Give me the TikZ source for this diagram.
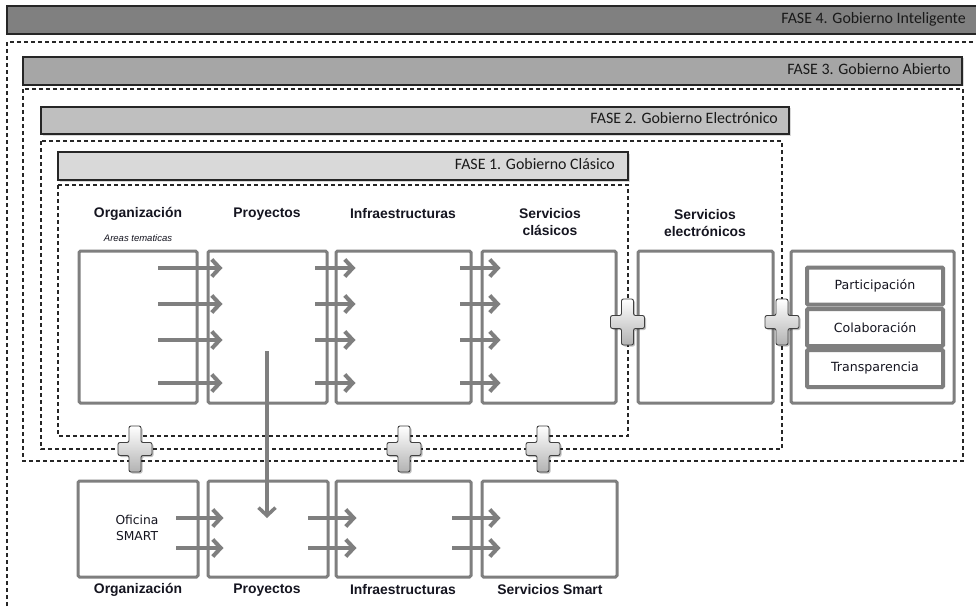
\documentclass[tikz,border=0pt]{standalone}
\usepackage{fontspec}
\setmainfont{Liberation Sans}
\newfontfamily\calib{Carlito}
\newfontfamily\dejav{DejaVu Sans}
\usetikzlibrary{arrows.meta,shadows}
\definecolor{fcuatro}{HTML}{808080}
\definecolor{ftres}{HTML}{A6A6A6}
\definecolor{fdos}{HTML}{BFBFBF}
\definecolor{funo}{HTML}{D9D9D9}
\definecolor{boxgray}{HTML}{7F7F7F}
\definecolor{txtdark}{HTML}{151520}
\tikzset{
  bar/.style={draw=black!85, line width=1.3pt, inner sep=0pt,
    drop shadow={shadow xshift=1.5pt, shadow yshift=-1.5pt, opacity=0.3}},
  bartext/.style={font=\calib\fontsize{15.9}{18}\selectfont, text=black!90, inner sep=0pt},
  dashframe/.style={draw=black!85, line width=1.3pt, dash pattern=on 4pt off 3pt},
  stagebox/.style={draw=boxgray, line width=3pt, rounded corners=1.5pt, inner sep=0pt},
  innerbox/.style={draw=boxgray, line width=4pt, rounded corners=1pt, inner sep=0pt,
    minimum width=136pt, minimum height=37pt, font=\dejav\fontsize{12.6}{14}\selectfont, text=txtdark},
  header/.style={font=\bfseries\fontsize{13.9}{17}\selectfont, text=txtdark, align=center, inner sep=0pt},
  flow/.style={draw=boxgray, line width=4pt, -{Straight Barb[length=8pt,width=17pt]}},
  pics/pluscross/.style={code={
    \fill[black, opacity=0.25, shift={(1.5,1.5)}, rounded corners=2pt]
      (-6,-23) -- (6,-23) -- (6,-6.5) -- (17,-6.5) -- (17,6.5) -- (6,6.5) -- (6,23) -- (-6,23)
      -- (-6,6.5) -- (-17,6.5) -- (-17,-6.5) -- (-6,-6.5) -- cycle;
    \shade[top color=white, bottom color=black!30, draw=black!75, line width=0.9pt, rounded corners=2pt]
      (-6,-23) -- (6,-23) -- (6,-6.5) -- (17,-6.5) -- (17,6.5) -- (6,6.5) -- (6,23) -- (-6,23)
      -- (-6,6.5) -- (-17,6.5) -- (-17,-6.5) -- (-6,-6.5) -- cycle;
  }}
}
\begin{document}
\begin{tikzpicture}[x=1pt, y=-1pt]
\useasboundingbox (0,0) rectangle (976,607);
\fill[white] (0,0) rectangle (976,607);

% dashed phase frames
\draw[dashframe] (7,620) -- (7,42) -- (990,42);
\draw[dashframe] (23,89) rectangle (963,461);
\draw[dashframe] (41,141) rectangle (782,449);
\draw[dashframe] (58,185) rectangle (628,436);

% phase bars
\node[bar, fill=fcuatro, minimum width=978pt, minimum height=28pt] (b4) at (496,20) {};
\node[bar, fill=ftres, minimum width=939pt, minimum height=28pt] (b3) at (492.5,71) {};
\node[bar, fill=fdos, minimum width=748pt, minimum height=27pt] (b2) at (415,120.5) {};
\node[bar, fill=funo, minimum width=570pt, minimum height=28pt] (b1) at (343,166) {};
\node[bartext, anchor=base east] (t4) at (966,23.5) {FASE 4. Gobierno Inteligente};
\node[bartext, anchor=base east] (t3) at (951,74.5) {FASE 3. Gobierno Abierto};
\node[bartext, anchor=base east] (t2) at (778,124) {FASE 2. Gobierno Electrónico};
\node[bartext, anchor=base east] (t1) at (615,169.5) {FASE 1. Gobierno Clásico};

% headers
\node[header] (h1) at (138,214) {Organización};
\node[font=\itshape\fontsize{9.5}{11}\selectfont, text=txtdark, inner sep=0pt] (h1s) at (138,238) {Areas tematicas};
\node[header] (h2) at (267,214) {Proyectos};
\node[header] (h3) at (403,214) {Infraestructuras};
\node[header] (h4) at (550,222.5) {Servicios\\clásicos};
\node[header] (h5) at (705,223.5) {Servicios\\electrónicos};

% top row boxes
\node[stagebox, minimum width=118pt, minimum height=152pt] (org1) at (138,327) {};
\node[stagebox, minimum width=119pt, minimum height=152pt] (pro1) at (267.5,327) {};
\node[stagebox, minimum width=135pt, minimum height=152pt] (inf1) at (403.5,327) {};
\node[stagebox, minimum width=134pt, minimum height=152pt] (ser1) at (549,327) {};
\node[stagebox, minimum width=135pt, minimum height=152pt] (ele1) at (705.5,327) {};
\node[stagebox, minimum width=163pt, minimum height=152pt] (abi1) at (872.5,327) {};
\node[innerbox] (par) at (875,286) {Participación};
\node[innerbox] (col) at (875,327.5) {Colaboración};
\node[innerbox] (tra) at (875,368.5) {Transparencia};

% bottom row boxes
\node[stagebox, minimum width=120pt, minimum height=96pt] (org2) at (138,529) {};
\node[stagebox, minimum width=120pt, minimum height=96pt] (pro2) at (268,529) {};
\node[stagebox, minimum width=135pt, minimum height=96pt] (inf2) at (403.5,529) {};
\node[stagebox, minimum width=135pt, minimum height=96pt] (ser2) at (549.5,529) {};
\node[font=\dejav\fontsize{12.3}{16}\selectfont, text=txtdark, align=center, inner sep=0pt] (ofi) at (137,528) {Oficina\\SMART};

% bottom labels
\node[header] (l1) at (138,590) {Organización};
\node[header] (l2) at (267,590) {Proyectos};
\node[header] (l3) at (403,590) {Infraestructuras};
\node[header] (l4) at (550,590) {Servicios Smart};

% top row arrows
\foreach \yy in {268,304,340,383}{
  \draw[flow] (158,\yy) -- (pro1.west |- 0,\yy) -- ++(16,0);
  \draw[flow] (315,\yy) -- (inf1.west |- 0,\yy) -- ++(21,0);
  \draw[flow] (460,\yy) -- (ser1.west |- 0,\yy) -- ++(20,0);
}
% bottom row arrows
\foreach \yy in {518,548}{
  \draw[flow] (176,\yy) -- (pro2.west |- 0,\yy) -- ++(17,0);
  \draw[flow] (308,\yy) -- (inf2.west |- 0,\yy) -- ++(22,0);
  \draw[flow] (452,\yy) -- (ser2.west |- 0,\yy) -- ++(20,0);
}
% vertical arrow
\coordinate (vstart) at (267,351);
\coordinate (vend) at (267,518);
\draw[draw=boxgray, line width=3.5pt, -{Straight Barb[length=8pt,width=17pt]}] (vstart) -- (vend);

% plus signs
\pic (p1) at (627.5,322) {pluscross};
\pic (p2) at (782,322) {pluscross};
\pic (p3) at (135,449) {pluscross};
\pic (p4) at (404,449) {pluscross};
\pic (p5) at (543,449) {pluscross};
\end{tikzpicture}
\end{document}
